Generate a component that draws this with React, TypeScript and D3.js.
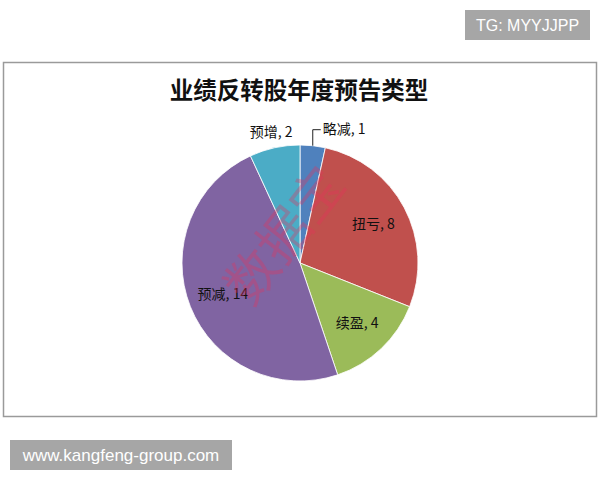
import { useEffect, useRef } from "react";
import * as d3 from "d3";

const categories = ["略减", "扭亏", "续盈", "预减", "预增"];
const values = [1, 8, 4, 14, 2];
const colors = ["#4F81BD", "#C0504D", "#9BBB59", "#8064A2", "#4BACC6"];
const outsideLabels = ["略减", "预增"];

const App = () => {
  const ref = useRef<SVGSVGElement>(null);

  useEffect(() => {
    const svg = d3.select(ref.current);
    svg.selectAll("*").remove();

    const width = 600;
    const height = 480;
    const cx = 300;
    const cy = 263;
    const radius = 118;

    svg.append("rect").attr("width", width).attr("height", height).attr("fill", "#fff");

    // top-right tag
    svg.append("rect").attr("x", 465).attr("y", 10).attr("width", 125).attr("height", 30).attr("fill", "#a6a6a6");
    svg
      .append("text")
      .attr("x", 527.5)
      .attr("y", 31)
      .attr("text-anchor", "middle")
      .attr("fill", "#fff")
      .attr("font-family", "Liberation Sans, Arial, sans-serif")
      .attr("font-size", 16)
      .text("TG: MYYJJPP");

    // chart frame
    svg
      .append("rect")
      .attr("x", 3.5)
      .attr("y", 62.5)
      .attr("width", 593)
      .attr("height", 354)
      .attr("fill", "#fff")
      .attr("stroke", "#9a9a9a")
      .attr("stroke-width", 1.5);

    svg
      .append("text")
      .attr("x", 299)
      .attr("y", 99)
      .attr("text-anchor", "middle")
      .attr("font-family", "Noto Sans CJK SC, sans-serif")
      .attr("font-weight", "bold")
      .attr("font-size", 23.5)
      .attr("fill", "#111")
      .text("业绩反转股年度预告类型");

    const data = categories.map((c, i) => ({ name: c, value: values[i], color: colors[i] }));
    const pie = d3
      .pie<{ name: string; value: number; color: string }>()
      .value((d) => d.value)
      .sort(null);
    const arcs = pie(data);
    const arc = d3.arc<any>().innerRadius(0).outerRadius(radius);
    const inLabel = d3.arc<any>().innerRadius(83).outerRadius(83);
    const outLabel = d3.arc<any>().innerRadius(134).outerRadius(134);
    const edge = d3.arc<any>().innerRadius(radius).outerRadius(radius);

    const g = svg.append("g").attr("transform", `translate(${cx},${cy})`);

    g.selectAll("path.slice")
      .data(arcs)
      .enter()
      .append("path")
      .attr("class", "slice")
      .attr("d", arc)
      .attr("fill", (d) => d.data.color)
      .attr("stroke", "#fff")
      .attr("stroke-width", 0.8);

    const labelFont = "Noto Sans CJK SC, sans-serif";
    const labelSize = 14;

    arcs.forEach((d) => {
      const label = `${d.data.name}, ${d.data.value}`;
      if (!outsideLabels.includes(d.data.name)) {
        const [x, y] = inLabel.centroid(d);
        g.append("text")
          .attr("x", x)
          .attr("y", y + 5)
          .attr("text-anchor", "middle")
          .attr("font-family", labelFont)
          .attr("font-size", labelSize)
          .attr("fill", "#111")
          .text(label);
      } else if (d.data.name === "预增") {
        const [x, y] = outLabel.centroid(d);
        g.append("text")
          .attr("x", x)
          .attr("y", y + 5)
          .attr("text-anchor", "middle")
          .attr("font-family", labelFont)
          .attr("font-size", labelSize)
          .attr("fill", "#111")
          .text(label);
      } else {
        // leader line for the small slice
        const [ex, ey] = edge.centroid(d);
        const ly = ey - 16;
        g.append("path")
          .attr("d", `M${ex},${ey} L${ex},${ly} L${ex + 8},${ly}`)
          .attr("fill", "none")
          .attr("stroke", "#222")
          .attr("stroke-width", 1);
        g.append("text")
          .attr("x", ex + 10)
          .attr("y", ly + 4)
          .attr("text-anchor", "start")
          .attr("font-family", labelFont)
          .attr("font-size", labelSize)
          .attr("fill", "#111")
          .text(label);
      }
    });

    // watermark
    svg
      .append("text")
      .attr("transform", "translate(288,238) rotate(-52)")
      .attr("text-anchor", "middle")
      .attr("dominant-baseline", "middle")
      .attr("font-family", "Noto Sans CJK SC, sans-serif")
      .attr("font-size", 52)
      .attr("fill", "#e8305a")
      .attr("fill-opacity", 0.33)
      .text("数据宝");

    // bottom-left tag
    svg.append("rect").attr("x", 10).attr("y", 440).attr("width", 222).attr("height", 30).attr("fill", "#a6a6a6");
    svg
      .append("text")
      .attr("x", 121)
      .attr("y", 461)
      .attr("text-anchor", "middle")
      .attr("fill", "#fff")
      .attr("font-family", "Liberation Sans, Arial, sans-serif")
      .attr("font-size", 17)
      .text("www.kangfeng-group.com");
  }, []);

  return (
    <svg
      ref={ref}
      width={600}
      height={480}
      style={{ position: "absolute", left: 0, top: 0 }}
    />
  );
};

export default App;
